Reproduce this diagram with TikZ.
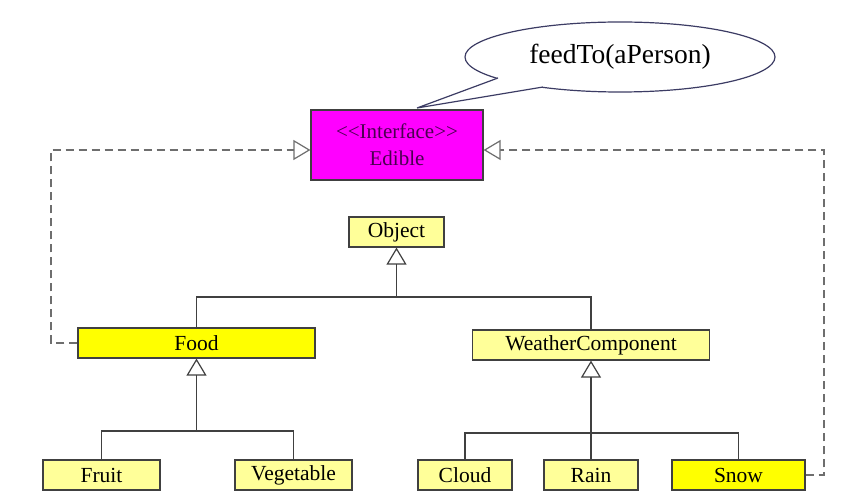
\documentclass[tikz,border=0pt]{standalone}
\usepackage{fontspec}
\setmainfont{Liberation Serif}[Ligatures=TeXOff]
\usetikzlibrary{arrows.meta,shapes.geometric}
\definecolor{lightyel}{HTML}{FFFF99}
\definecolor{brightyel}{HTML}{FFFF00}
\definecolor{magentabox}{HTML}{FF00FF}
\definecolor{boxline}{HTML}{404040}
\definecolor{dashgray}{HTML}{6E6E6E}
\definecolor{calloutline}{HTML}{3C3C64}
\definecolor{ifacetext}{HTML}{4A0050}
\begin{document}
\begin{tikzpicture}[x=1pt,y=-1pt,
  cls/.style={draw=boxline, line width=1.2pt, fill=lightyel, inner sep=0pt,
    minimum height=30pt, font=\fontsize{21.5}{24}\selectfont},
  hot/.style={cls, fill=brightyel},
  iface/.style={draw=boxline, line width=1.2pt, fill=magentabox, inner sep=0pt,
    minimum width=172pt, minimum height=70pt, align=center,
    text=ifacetext, font=\fontsize{21}{27}\selectfont},
  conn/.style={draw=boxline, line width=1.2pt},
  gen/.style={conn, -{Triangle[open, length=17pt, width=20pt]}},
  real/.style={draw=dashgray, line width=1.2pt, dash pattern=on 8pt off 5pt,
    -{Triangle[open, length=17pt, width=20pt, fill=white]}},
]
\useasboundingbox (0,0) rectangle (865,494);
\fill[white] (0,0) rectangle (865,494);

% callout
\node[ellipse, draw=calloutline, line width=1.2pt, fill=white, inner sep=0pt,
  minimum width=310pt, minimum height=70pt, font=\fontsize{27.5}{30}\selectfont]
  (callout) at (620,57) {feedTo(aPerson)};
\fill[white] (498,78) -- (417,108) -- (543,87) -- (540,80) -- (500,72) -- cycle;
\draw[calloutline, line width=1.2pt, line join=miter] (498,78) -- (417,108) -- (543,87);

% nodes
\node[iface] (edible) at (397,145) {<{}\kern0pt<Interface>{}\kern0pt>\\Edible};
\node[cls, minimum width=95pt] (object) at (396.5,232) {Object};
\node[hot, minimum width=237pt] (food) at (196.5,343) {Food};
\node[cls, minimum width=237pt] (weather) at (591,345) {WeatherComponent};
\node[cls, minimum width=117pt] (fruit) at (101.5,475) {Fruit};
\node[cls, minimum width=117pt] (veg) at (293.5,475) {Vegetable};
\node[cls, minimum width=94pt] (cloud) at (465,475) {Cloud};
\node[cls, minimum width=94pt] (rain) at (591,475) {Rain};
\node[hot, minimum width=133pt] (snow) at (738.5,475) {Snow};

% generalization: Object
\coordinate (bus1) at (396.5,297);
\draw[conn] (food.north) |- (bus1) -| (weather.north);
\draw[gen] (bus1) -- (object.south);

% generalization: Food
\coordinate (bus2) at (196.5,431);
\draw[conn] (fruit.north) |- (bus2) -| (veg.north);
\draw[gen] (bus2) -- (food.south);

% generalization: WeatherComponent
\coordinate (bus3) at (591,433);
\draw[conn] (cloud.north) |- (bus3) -| (snow.north);
\draw[gen] (rain.north) -- (weather.south);

% realization
\coordinate (lcorner) at (51,150);
\coordinate (rcorner) at (824,150);
\draw[real] (food.west) -| (lcorner) -- ([yshift=-5pt]edible.west);
\draw[real] (snow.east) -| (rcorner) -- ([yshift=-5pt]edible.east);
\end{tikzpicture}
\end{document}
